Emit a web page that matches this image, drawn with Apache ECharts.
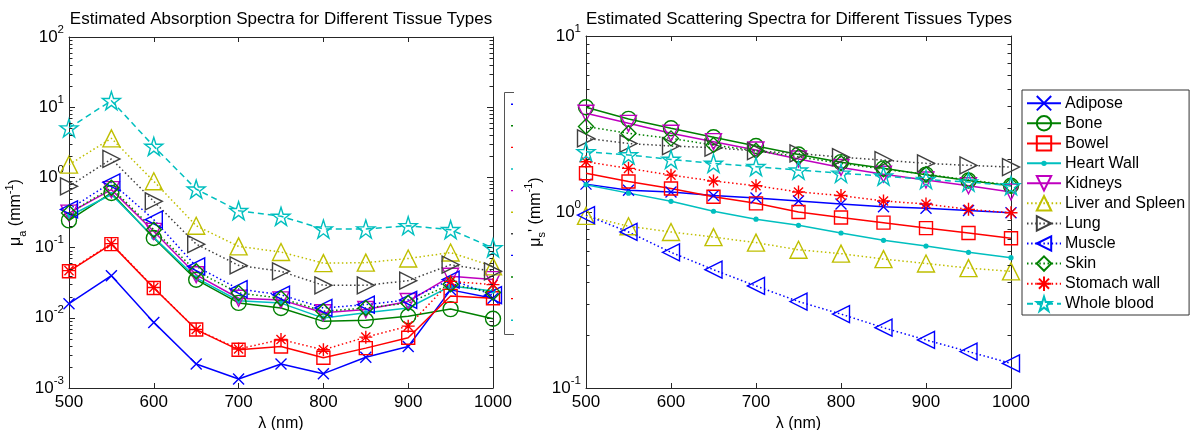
<!DOCTYPE html>
<html>
<head>
<meta charset="utf-8">
<script src="https://cdn.jsdelivr.net/npm/echarts@6/dist/echarts.min.js"></script>
<style>
  html, body { margin: 0; padding: 0; background: #fff; }
  #chart { width: 1194px; height: 430px; }
</style>
</head>
<body>
<div id="chart"></div>
<script>
// Wavelength samples (nm)
const wavelengths = [500, 550, 600, 650, 700, 750, 800, 850, 900, 950, 1000];

// Tissue names
const tissues = ['Adipose', 'Bone', 'Bowel', 'Heart Wall', 'Kidneys', 'Liver and Spleen',
                 'Lung', 'Muscle', 'Skin', 'Stomach wall', 'Whole blood'];

// Absorption coefficient mu_a (mm^-1)
const absAdipose  = [0.0159, 0.0398, 0.0086, 0.0022, 0.00134, 0.0022, 0.0016, 0.00274, 0.0039, 0.025, 0.019];
const absBone     = [0.244, 0.60, 0.137, 0.0349, 0.0163, 0.0138, 0.0089, 0.0092, 0.0105, 0.0133, 0.0097];
const absBowel    = [0.046, 0.112, 0.0266, 0.0068, 0.0035, 0.0039, 0.0027, 0.0037, 0.0052, 0.0205, 0.019];
const absHeart    = [0.28, 0.57, 0.14, 0.037, 0.0175, 0.0162, 0.0099, 0.0118, 0.0138, 0.0283, 0.0241];
const absKidneys  = [0.31, 0.67, 0.17, 0.041, 0.019, 0.018, 0.0118, 0.0131, 0.0171, 0.039, 0.035];
const absLiver    = [1.52, 3.6, 0.88, 0.205, 0.104, 0.0865, 0.060, 0.061, 0.070, 0.085, 0.054];
const absLung     = [0.746, 1.83, 0.456, 0.112, 0.0558, 0.0459, 0.029, 0.029, 0.0338, 0.057, 0.046];
const absMuscle   = [0.35, 0.85, 0.25, 0.054, 0.0257, 0.0213, 0.0138, 0.0154, 0.018, 0.035, 0.021];
const absSkin     = [0.31, 0.71, 0.18, 0.046, 0.0226, 0.019, 0.0124, 0.0138, 0.0162, 0.03, 0.023];
const absStomach  = [0.047, 0.114, 0.027, 0.0068, 0.0036, 0.0049, 0.0035, 0.0053, 0.0076, 0.033, 0.0297];
const absBlood    = [5.06, 12.4, 2.77, 0.68, 0.336, 0.279, 0.184, 0.184, 0.205, 0.18, 0.099];

// Reduced scattering coefficient mu_s' (mm^-1)
const scaAdipose  = [1.44, 1.33, 1.30, 1.24, 1.20, 1.155, 1.11, 1.07, 1.05, 1.02, 0.99];
const scaBone     = [3.94, 3.38, 2.99, 2.66, 2.37, 2.12, 1.92, 1.77, 1.63, 1.51, 1.41];
const scaBowel    = [1.66, 1.49, 1.36, 1.22, 1.12, 1.0, 0.93, 0.87, 0.81, 0.76, 0.71];
const scaHeart    = [1.43, 1.28, 1.15, 1.01, 0.91, 0.84, 0.76, 0.69, 0.64, 0.59, 0.55];
const scaKidneys  = [3.64, 3.19, 2.8, 2.51, 2.25, 2.0, 1.79, 1.64, 1.52, 1.41, 1.30];
const scaLiver    = [0.95, 0.83, 0.77, 0.72, 0.67, 0.61, 0.58, 0.54, 0.51, 0.48, 0.46];
const scaLung     = [2.62, 2.45, 2.37, 2.32, 2.22, 2.15, 2.05, 1.97, 1.89, 1.84, 1.80];
const scaMuscle   = [0.96, 0.77, 0.59, 0.47, 0.38, 0.31, 0.263, 0.22, 0.1875, 0.161, 0.138];
const scaSkin     = [3.06, 2.8, 2.62, 2.4, 2.23, 2.06, 1.89, 1.75, 1.64, 1.52, 1.42];
const scaStomach  = [1.93, 1.77, 1.62, 1.50, 1.41, 1.30, 1.24, 1.155, 1.11, 1.035, 0.99];
const scaBlood    = [2.2, 2.11, 1.99, 1.89, 1.81, 1.73, 1.66, 1.60, 1.53, 1.48, 1.41];

const absorption = [absAdipose, absBone, absBowel, absHeart, absKidneys, absLiver,
                    absLung, absMuscle, absSkin, absStomach, absBlood];
const scattering = [scaAdipose, scaBone, scaBowel, scaHeart, scaKidneys, scaLiver,
                    scaLung, scaMuscle, scaSkin, scaStomach, scaBlood];

// Log-axis decades and minor-tick multipliers
const absDecades = [0.001, 0.01, 0.1, 1, 10];
const scaDecades = [0.1, 1];
const minorSteps = [2, 3, 4, 5, 6, 7, 8, 9];

// Marker shapes
const STAR = 'path://M10,0L12.25,6.91L19.51,6.91L13.63,11.18L15.88,18.09L10,13.82L4.12,18.09L6.37,11.18L0.49,6.91L7.76,6.91Z';
const CROSS = 'path://M0,0L10,10M10,0L0,10';
const ASTER = 'path://M5,0L5,10M0,5L10,5M1.5,1.5L8.5,8.5M8.5,1.5L1.5,8.5';
const TRI_UP = 'path://M0,12L7,0L14,12Z';
const TRI_DOWN = 'path://M0,0L14,0L7,12Z';
const TRI_LEFT = 'path://M0,7L12,0L12,14Z';
const TRI_RIGHT = 'path://M0,0L12,7L0,14Z';
const DIAMOND = 'path://M7,0L14,7L7,14L0,7Z';
const DOT = 'path://M0,0M14,14M9.6,7A2.6,2.6,0,1,1,4.4,7A2.6,2.6,0,1,1,9.6,7Z';

const DOTTED = [1.5, 2.6];
const DASHED = [6, 4];

// Line / marker style per tissue
const styles = [
  { color: '#0000ff', symbol: CROSS,     size: 11, dash: 'solid' },
  { color: '#008000', symbol: 'circle',  size: 15, dash: 'solid' },
  { color: '#ff0000', symbol: 'rect',    size: 13, dash: 'solid' },
  { color: '#00bfbf', symbol: DOT,       size: 14, dash: 'solid', filled: true },
  { color: '#bf00bf', symbol: TRI_DOWN,  size: 16, dash: 'solid' },
  { color: '#bfbf00', symbol: TRI_UP,    size: 17, dash: DOTTED },
  { color: '#404040', symbol: TRI_RIGHT, size: 17, dash: DOTTED },
  { color: '#0000ff', symbol: TRI_LEFT,  size: 17, dash: DOTTED },
  { color: '#008000', symbol: DIAMOND,   size: 15, dash: DOTTED },
  { color: '#ff0000', symbol: ASTER,     size: 13, dash: DOTTED },
  { color: '#00bfbf', symbol: STAR,      size: 18, dash: DASHED }
];

const FONT = '"Liberation Sans", Arial, sans-serif';
const AXIS_COLOR = '#262626';

function lineSeries(name, values, st, xi, yi) {
  return {
    type: 'line',
    name: name,
    xAxisIndex: xi,
    yAxisIndex: yi,
    data: wavelengths.map((w, i) => [w, values[i]]),
    symbol: st.symbol,
    symbolSize: st.size,
    showAllSymbol: true,
    lineStyle: { color: st.color, width: 1.5, type: st.dash },
    itemStyle: {
      color: st.filled ? st.color : 'rgba(255,255,255,0)',
      borderColor: st.color,
      borderWidth: st.filled ? 0 : 1.4
    },
    emphasis: { disabled: true },
    animation: false
  };
}

function powLabel(v) {
  const e = Math.round(Math.log10(v));
  return '{b|10}{e|' + e + '}';
}

const labelRich = {
  b: { fontSize: 17, fontFamily: FONT, color: '#000', lineHeight: 27 },
  e: { fontSize: 11.5, fontFamily: FONT, color: '#000', verticalAlign: 'top', lineHeight: 12 }
};

function xAxisDef(grid, pos) {
  return {
    type: 'value', gridIndex: grid, position: pos,
    min: 500, max: 1000, interval: 100,
    axisLine: { show: true, onZero: false, lineStyle: { color: AXIS_COLOR, width: 1 } },
    axisTick: { show: true, inside: true, length: 5, lineStyle: { color: AXIS_COLOR } },
    axisLabel: { show: pos === 'bottom', margin: 6, fontSize: 17, fontFamily: FONT, color: '#000',
                 formatter: v => String(v) },
    splitLine: { show: false },
    name: pos === 'bottom' ? 'λ (nm)' : '',
    nameLocation: 'middle', nameGap: 24,
    nameTextStyle: { fontSize: 16, fontFamily: FONT, color: '#000' }
  };
}

function yAxisDef(grid, pos, min, max, name, gap) {
  return {
    type: 'log', logBase: 10, gridIndex: grid, position: pos,
    min: min, max: max,
    axisLine: { show: true, onZero: false, lineStyle: { color: AXIS_COLOR, width: 1 } },
    axisTick: { show: true, inside: true, length: 6, lineStyle: { color: AXIS_COLOR } },
    axisLabel: { show: pos === 'left', margin: 5, formatter: powLabel, rich: labelRich },
    splitLine: { show: false },
    name: pos === 'left' ? name : '',
    nameLocation: 'middle', nameGap: gap, nameRotate: 90,
    nameTextStyle: {
      fontSize: 16, fontFamily: FONT, color: '#000',
      rich: {
        t: { fontSize: 16, fontFamily: FONT, color: '#000', lineHeight: 24 },
        sub: { fontSize: 11, fontFamily: FONT, color: '#000', verticalAlign: 'bottom', lineHeight: 11 },
        sup: { fontSize: 11, fontFamily: FONT, color: '#000', verticalAlign: 'top', lineHeight: 11 }
      }
    }
  };
}

const series = [];
tissues.forEach((n, i) => series.push(lineSeries(n, absorption[i], styles[i], 0, 0)));
tissues.forEach((n, i) => series.push(lineSeries(n, scattering[i], styles[i], 2, 2)));

// Partly visible legend frame at the right edge of the absorption panel
const stubColors = styles.map(s => s.color);
const stub = [{
  type: 'polyline', silent: true,
  shape: { points: [[514, 92.5], [504.5, 92.5], [504.5, 334.5], [514, 334.5]] },
  style: { stroke: '#555', lineWidth: 1, fill: null }
}];
stubColors.forEach((c, i) => {
  stub.push({
    type: 'rect', silent: true,
    shape: { x: 511, y: 103.5 + i * 21.6, width: 2, height: 1.4 },
    style: { fill: c }
  });
});

const option = {
  backgroundColor: '#fff',
  animation: false,
  title: [
    { text: 'Estimated Absorption Spectra for Different Tissue Types', left: 281, top: 11, textAlign: 'center', padding: 0,
      textStyle: { fontSize: 17, fontWeight: 'normal', fontFamily: FONT, color: '#000' } },
    { text: 'Estimated Scattering Spectra for Different Tissues Types', left: 799, top: 11, textAlign: 'center', padding: 0,
      textStyle: { fontSize: 17, fontWeight: 'normal', fontFamily: FONT, color: '#000' } }
  ],
  grid: [
    { left: 69, top: 37, width: 424, height: 351, containLabel: false, outerBoundsMode: 'none' },
    { left: 586, top: 36, width: 425, height: 352, containLabel: false, outerBoundsMode: 'none' }
  ],
  xAxis: [xAxisDef(0, 'bottom'), xAxisDef(0, 'top'), xAxisDef(1, 'bottom'), xAxisDef(1, 'top')],
  yAxis: [
    yAxisDef(0, 'left', 0.001, 100, '{t|μ}{sub|a}{t| (mm}{sup|-1}{t|)}', 41),
    yAxisDef(0, 'right', 0.001, 100, '', 0),
    yAxisDef(1, 'left', 0.1, 10, "{t|μ}{sub|s}{t|' (mm}{sup|-1}{t|)}", 37),
    yAxisDef(1, 'right', 0.1, 10, '', 0)
  ],
  legend: {
    data: tissues,
    orient: 'vertical',
    left: 1022, top: 90,
    padding: [5, 4, 3, 4],
    itemWidth: 34, itemHeight: 18, itemGap: 3.7,
    backgroundColor: '#fff',
    borderColor: '#333', borderWidth: 1, borderRadius: 0,
    selectedMode: false,
    textStyle: { fontSize: 16, fontFamily: FONT, color: '#000', padding: [0, 0, 0, -1] }
  },
  graphic: stub,
  series: series
};

const chart = echarts.init(document.getElementById('chart'), null, { renderer: 'canvas' });
chart.setOption(option);

// Minor ticks (2..9 within each decade) on both sides of each log axis,
// placed through the axes' own value-to-pixel conversion
function minorTicks(decades, yAxisIndex, xAxisIndex) {
  const out = [];
  const xl = chart.convertToPixel({ xAxisIndex: xAxisIndex }, 500);
  const xr = chart.convertToPixel({ xAxisIndex: xAxisIndex }, 1000);
  decades.forEach(d => minorSteps.forEach(m => {
    const y = Math.round(chart.convertToPixel({ yAxisIndex: yAxisIndex }, d * m)) + 0.5;
    out.push({ type: 'line', silent: true, shape: { x1: xl, y1: y, x2: xl + 3.5, y2: y },
               style: { stroke: AXIS_COLOR, lineWidth: 1 }, z: 10 });
    out.push({ type: 'line', silent: true, shape: { x1: xr, y1: y, x2: xr - 3.5, y2: y },
               style: { stroke: AXIS_COLOR, lineWidth: 1 }, z: 10 });
  }));
  return out;
}

chart.setOption({
  graphic: stub.concat(minorTicks(absDecades, 0, 0), minorTicks(scaDecades, 2, 2))
});
</script>
</body>
</html>
